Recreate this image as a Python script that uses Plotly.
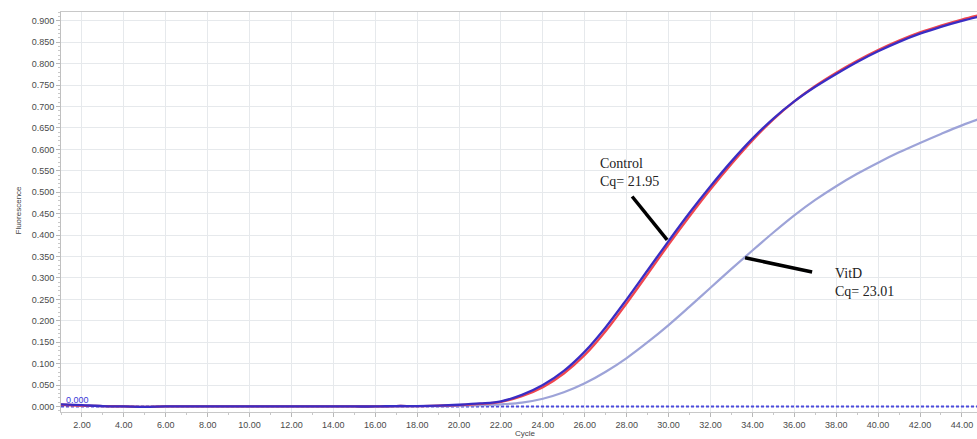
import plotly.graph_objects as go

cycles = list(range(1, 46))

control_blue = [0.005, 0.003, 0.001, 0.000, -0.001, 0.000, 0.000, 0.000, 0.000, 0.000,
                0.000, 0.000, 0.000, 0.000, 0.000, 0.000, 0.001, 0.001, 0.002, 0.004,
                0.007, 0.012, 0.027, 0.050, 0.083, 0.128, 0.185, 0.250, 0.318, 0.386,
                0.452, 0.514, 0.572, 0.625, 0.672, 0.712, 0.746, 0.776, 0.804, 0.829,
                0.851, 0.870, 0.886, 0.900, 0.912]

control_red = [0.004, 0.002, 0.001, 0.000, -0.001, 0.000, 0.000, 0.000, 0.000, 0.000,
               0.000, 0.000, 0.000, 0.000, 0.000, 0.000, 0.001, 0.001, 0.002, 0.003,
               0.006, 0.011, 0.024, 0.045, 0.077, 0.120, 0.176, 0.241, 0.309, 0.378,
               0.444, 0.507, 0.566, 0.621, 0.670, 0.712, 0.748, 0.779, 0.807, 0.832,
               0.854, 0.873, 0.889, 0.903, 0.915]

vitd = [0.004, 0.002, 0.001, 0.000, -0.001, 0.000, 0.000, 0.000, 0.000, 0.000,
        0.000, 0.000, 0.000, 0.000, 0.000, 0.000, 0.000, 0.001, 0.001, 0.002,
        0.003, 0.005, 0.009, 0.018, 0.033, 0.054, 0.081, 0.113, 0.150, 0.190,
        0.233, 0.277, 0.321, 0.364, 0.406, 0.446, 0.482, 0.514, 0.543, 0.569,
        0.593, 0.615, 0.636, 0.656, 0.674]

threshold = 0.000

x_ticks = list(range(2, 46, 2))
x_ticklabels = [f"{v:.2f}" for v in x_ticks]
y_ticks = [round(i * 0.05, 3) for i in range(19)]
y_ticklabels = [f"{v:.3f}" for v in y_ticks]

fig = go.Figure()

fig.add_trace(go.Scatter(x=[1, 45], y=[threshold, threshold], mode="lines",
                         line=dict(color="#4b4bdc", width=2, dash="3px,2px"),
                         hoverinfo="skip", showlegend=False))
fig.add_trace(go.Scatter(x=cycles, y=vitd, mode="lines", name="VitD",
                         line=dict(color="#9da3d8", width=2.2, shape="spline")))
fig.add_trace(go.Scatter(x=cycles, y=control_red, mode="lines", name="Control (red)",
                         line=dict(color="#f0464e", width=2.3, shape="spline")))
fig.add_trace(go.Scatter(x=cycles, y=control_blue, mode="lines", name="Control",
                         line=dict(color="#3a2dc4", width=2.3, shape="spline")))

# pointer lines
fig.add_shape(type="line", x0=28.26, y0=0.490, x1=29.93, y1=0.389,
              line=dict(color="black", width=3.5))
fig.add_shape(type="line", x0=33.65, y0=0.347, x1=36.85, y1=0.314,
              line=dict(color="black", width=3.5))

serif = "Liberation Serif, Times New Roman, serif"
fig.add_annotation(x=26.63, y=0.590, xref="x", yref="y", xanchor="left", yanchor="top",
                   align="left", showarrow=False, text="Control<br>Cq= 21.95",
                   font=dict(family=serif, size=14, color="#222222"))
fig.add_annotation(x=37.85, y=0.333, xref="x", yref="y", xanchor="left", yanchor="top",
                   align="left", showarrow=False, text="VitD<br>Cq= 23.01",
                   font=dict(family=serif, size=14, color="#222222"))
fig.add_annotation(x=1.15, y=threshold, xref="x", yref="y", xanchor="left", yanchor="bottom",
                   showarrow=False, text=f"{threshold:.3f}", yshift=-1,
                   font=dict(family="Liberation Sans, Arial", size=9, color="#3a3ad8"))

fig.add_annotation(x=0.5066, y=-0.0525, xref="paper", yref="paper", showarrow=False,
                   text="Cycle", yanchor="middle",
                   font=dict(family="Liberation Sans, Arial", size=8, color="#444444"))
fig.add_annotation(x=-0.0535, y=0.505, xref="paper", yref="paper", showarrow=False,
                   text="Fluorescence", textangle=-90,
                   font=dict(family="Liberation Sans, Arial", size=8, color="#444444"))

tickfont = dict(family="Liberation Sans, Arial", size=9, color="#4a4a4a")

fig.update_xaxes(range=[1, 44.72], tickvals=x_ticks, ticktext=x_ticklabels,
                 automargin=False,
                 showgrid=True, gridcolor="#e6e9ec", gridwidth=1,
                 showline=True, linecolor="#c8c8c8", linewidth=1, mirror=True,
                 ticks="outside", ticklen=4, tickcolor="#b8b8b8",
                 minor=dict(dtick=1, tick0=1, ticks="outside", ticklen=2, tickcolor="#c8c8c8",
                            showgrid=False),
                 tickfont=tickfont, zeroline=False)
fig.update_yaxes(range=[-0.0129, 0.9206], tickvals=y_ticks, ticktext=y_ticklabels,
                 automargin=False,
                 showgrid=True, gridcolor="#e6e9ec", gridwidth=1,
                 showline=True, linecolor="#c0c0c0", linewidth=1,
                 ticks="outside", ticklen=4, tickcolor="#b8b8b8",
                 minor=dict(dtick=0.01, tick0=0, ticks="outside", ticklen=2, tickcolor="#c8c8c8",
                            showgrid=False),
                 tickfont=tickfont, zeroline=False)

fig.update_layout(width=977, height=439, margin=dict(l=61, r=0, t=12, b=27, autoexpand=False),
                  plot_bgcolor="white", paper_bgcolor="white", showlegend=False)

fig.write_html("out.html", config={"displayModeBar": False},
               post_script="document.body.style.margin='0';document.body.style.padding='0';")
